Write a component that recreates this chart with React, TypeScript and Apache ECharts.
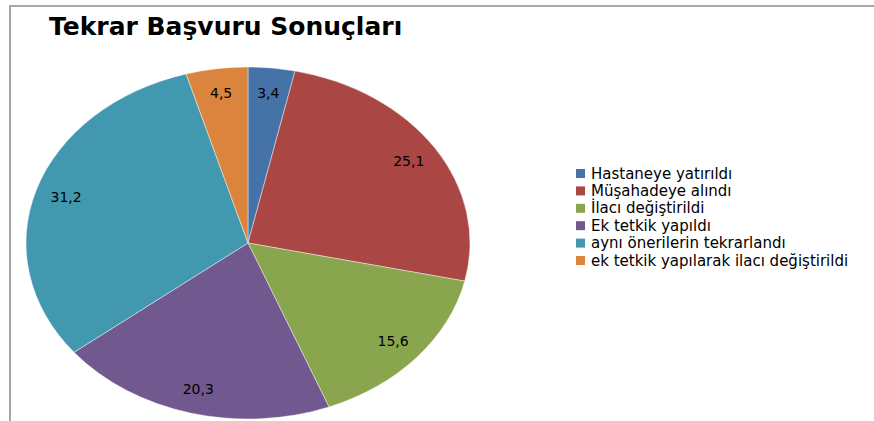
import React, { useEffect, useRef } from "react";
import * as echarts from "echarts";

const categories = [
  "Hastaneye yatırıldı",
  "Müşahadeye alındı",
  "İlacı değiştirildi",
  "Ek tetkik yapıldı",
  "aynı önerilerin tekrarlandı",
  "ek tetkik yapılarak ilacı değiştirildi",
];
const values = [3.4, 25.1, 15.6, 20.3, 31.2, 4.5];
const colors = ["#4572A7", "#AA4643", "#89A54E", "#71588F", "#4198AF", "#DB843D"];
const titleText = "Tekrar Başvuru Sonuçları";

const CX = 248;
const CY = 243;
const RX = 222;
const RY = 176;
const LABEL_F = 0.86;

export default function App() {
  const ref = useRef<HTMLDivElement>(null);
  useEffect(() => {
    if (!ref.current) return;
    const chart = echarts.init(ref.current, null, { renderer: "svg" });
    const total = values.reduce((a, b) => a + b, 0);
    const option: any = {
      animation: false,
      color: colors,
      title: {
        text: titleText,
        left: 44,
        top: 9,
        textStyle: {
          fontFamily: "DejaVu Sans",
          fontWeight: "bold",
          fontSize: 25,
          color: "#000",
        },
      },
      legend: {
        orient: "vertical",
        left: 576,
        top: 166,
        padding: 0,
        icon: "rect",
        itemWidth: 9,
        itemHeight: 9,
        itemGap: 2.4,
        textStyle: {
          fontFamily: "DejaVu Sans",
          fontSize: 15,
          lineHeight: 15,
          color: "#000",
          padding: [0, 0, 0, 1],
        },
        data: categories,
        selectedMode: false,
      },
      graphic: [
        {
          type: "rect",
          shape: { x: 10, y: 6, width: 1000, height: 1000 },
          style: { fill: "none", stroke: "#8c8c8c", lineWidth: 1.5 },
          silent: true,
        },
      ],
      series: [
        {
          type: "pie",
          name: "legend",
          radius: [0, 0],
          center: [-500, -500],
          silent: true,
          label: { show: false },
          labelLine: { show: false },
          data: categories.map((c, i) => ({ name: c, value: values[i] })),
        },
        {
          type: "custom",
          coordinateSystem: "none",
          data: categories.map((c, i) => ({ name: c, value: values[i] })),
          renderItem: (params: any, api: any) => {
            const i = params.dataIndex;
            let cum = 0;
            for (let j = 0; j < i; j++) cum += values[j];
            const v = api.value(0);
            const a0 = -Math.PI / 2 + (cum / total) * Math.PI * 2;
            const a1 = a0 + (v / total) * Math.PI * 2;
            const am = (a0 + a1) / 2;
            const lx = CX + Math.cos(am) * RX * LABEL_F;
            const ly = CY + Math.sin(am) * RY * LABEL_F;
            return {
              type: "group",
              children: [
                {
                  type: "sector",
                  x: CX,
                  y: CY,
                  scaleX: 1,
                  scaleY: RY / RX,
                  shape: { cx: 0, cy: 0, r0: 0, r: RX, startAngle: a0, endAngle: a1, clockwise: true },
                  style: {
                    fill: colors[i],
                    stroke: "rgba(255,255,255,0.6)",
                    lineWidth: 0.8,
                  },
                },
                {
                  type: "text",
                  x: lx,
                  y: ly,
                  style: {
                    text: String(v).replace(".", ","),
                    fontFamily: "DejaVu Sans",
                    fontSize: 14,
                    fill: "#000",
                    align: "center",
                    verticalAlign: "middle",
                  },
                },
              ],
            };
          },
        },
      ],
    };
    chart.setOption(option);
    return () => chart.dispose();
  }, []);
  return (
    <div
      ref={ref}
      style={{ position: "fixed", left: 0, top: 0, width: 874, height: 421, background: "#fff" }}
    />
  );
}
